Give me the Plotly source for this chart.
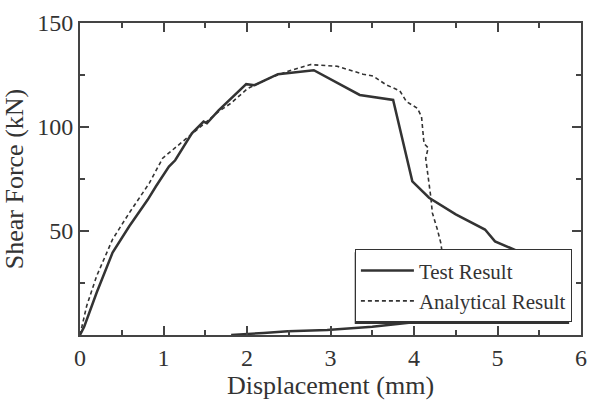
import plotly.graph_objects as go

# Test result (solid)
test_x = [0, 0.05, 0.2, 0.39, 0.59, 0.81, 0.91, 1.065, 1.14, 1.34, 1.48, 1.52, 1.66, 1.81, 1.99, 2.09, 2.37, 2.8,
          3.35, 3.75, 3.98, 4.18, 4.5, 4.85, 4.97, 5.33, 5.55, 5.6, 5.2, 4.8, 4.34, 4.02, 3.5, 2.96, 2.49, 2.2, 1.81]
test_y = [0, 4, 20.4, 39.6, 52.3, 65, 71.5, 81, 84, 97, 102.6, 101.8, 108, 113.8, 120.6, 120.1, 125.4, 127.3,
          115.4, 113, 73.9, 66, 58, 50.7, 45, 38.8, 33, 28, 14, 11, 9.3, 6.2, 4, 2.4, 1.8, 1.0, 0]

# Analytical result (dashed)
ana_x = [0, 0.08, 0.2, 0.39, 0.59, 0.83, 0.99, 1.3, 1.66, 1.81, 2.01, 2.3, 2.53, 2.76,
         3.08, 3.39, 3.51, 3.67, 3.83, 3.91, 4.04, 4.09, 4.12, 4.17, 4.14, 4.2, 4.22, 4.28, 4.32, 4.34]
ana_y = [0, 14, 28.4, 46, 58.7, 73, 85, 95.4, 107.4, 111.5, 118.6, 124, 127.3, 130,
         129.2, 125.4, 124.5, 120.2, 117.4, 112.2, 109, 105, 92, 90, 85, 66.7, 58.7, 50.7, 44.4, 39]

x_ticks = [0, 1, 2, 3, 4, 5, 6]
y_ticks = [0, 50, 100, 150]
y_ticktext = ["", "50", "100", "150"]

ink = "#333333"
font = "Liberation Serif, Times New Roman, serif"

fig = go.Figure()
fig.add_trace(go.Scatter(x=test_x, y=test_y, mode="lines", name="Test Result",
                         line=dict(color=ink, width=2.5)))
fig.add_trace(go.Scatter(x=ana_x, y=ana_y, mode="lines", name="Analytical Result",
                         line=dict(color=ink, width=1.6, dash="4px,3px")))

axis_common = dict(showgrid=False, zeroline=False, showline=True, linecolor="#444444", linewidth=2,
                   mirror="ticks", ticks="inside", ticklen=9, tickwidth=1.5, tickcolor="#444444",
                   tickfont=dict(family=font, size=24, color=ink),
                   title_font=dict(family=font, size=26, color=ink))

fig.update_xaxes(range=[0, 6], tickvals=x_ticks, title_text="Displacement (mm)",
                 minor=dict(dtick=0.5, ticklen=5, ticks="inside", tickcolor="#444444", tickwidth=1.5),
                 title_standoff=4, **axis_common)
fig.update_yaxes(range=[0, 150], tickvals=y_ticks, ticktext=y_ticktext, title_text="Shear Force (kN)",
                 minor=dict(dtick=25, ticklen=5, ticks="inside", tickcolor="#444444", tickwidth=1.5),
                 title_standoff=6, **axis_common)

# legend drop shadow (legend box drawn at ~355-572 x 250-322 px)
fig.add_shape(type="rect", xref="paper", yref="paper",
              x0=(358 - 80) / 507, x1=(575 - 80) / 507,
              y0=(336 - 325) / 313, y1=(336 - 253) / 313,
              fillcolor="#333333", line=dict(width=0), layer="above")

fig.update_layout(
    width=596, height=402,
    margin=dict(l=80, r=9, t=23, b=66),
    paper_bgcolor="white", plot_bgcolor="white",
    font=dict(family=font, size=21, color=ink),
    showlegend=True,
    legend=dict(x=(358 - 80) / 507, y=(336 - 250) / 313, xanchor="left", yanchor="top",
                bgcolor="white", bordercolor="#333333", borderwidth=1.2,
                font=dict(family=font, size=21, color=ink),
                itemwidth=53, tracegroupgap=0),
)

fig.write_html("out.html")
